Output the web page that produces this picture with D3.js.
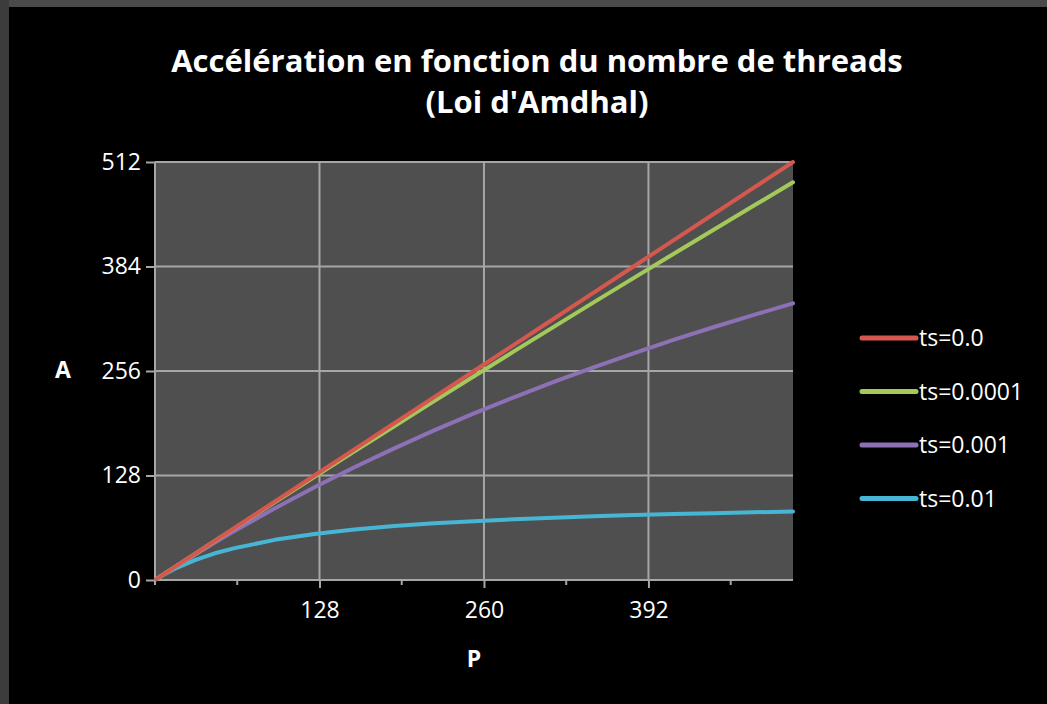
<!DOCTYPE html>
<html><head><meta charset="utf-8">
<script src="https://cdn.jsdelivr.net/npm/d3@7"></script>
<style>
html,body{margin:0;padding:0;background:#000;}
svg{display:block;}
</style></head>
<body>
<script>
// ---- data ----
const categoryP = [-3, 4, 12, 28, 44, 60, 92, 124, 156, 188, 220, 252, 284, 316, 348, 380, 412, 444, 476, 508];
const seriesNames = ["ts=0.0", "ts=0.0001", "ts=0.001", "ts=0.01"];
const ts0    = [1, 8, 16, 32, 48, 64, 96, 128, 160, 192, 224, 256, 288, 320, 352, 384, 416, 448, 480, 512];
const ts0001 = [1, 8.0, 16.0, 31.9, 47.8, 63.6, 95.1, 126.4, 157.5, 188.4, 219.1, 249.6, 280.0, 310.1, 340.1, 369.8, 399.4, 428.8, 458.0, 487.1];
const ts001  = [1, 7.9, 15.8, 31.0, 45.9, 60.2, 87.7, 113.6, 138.1, 161.2, 183.2, 204.0, 223.8, 242.6, 260.5, 277.7, 294.0, 309.6, 324.5, 338.8];
const ts01   = [1, 7.5, 13.9, 24.4, 32.7, 39.0, 49.2, 56.4, 61.8, 66.0, 69.4, 72.1, 74.4, 76.4, 78.1, 79.5, 80.8, 81.9, 82.9, 83.8];
const seriesColors = ["#d5584f", "#a3c95b", "#8d71b6", "#47b6d4"];
const xMajorTicks = [128, 260, 392];
const xMinorTicks = [62, 194, 326, 458];
const yTicks = [0, 128, 256, 384, 512];
const titleLines = ["Accélération en fonction du nombre de threads", "(Loi d'Amdhal)"];
const xTitle = "P", yTitle = "A";

const W = 1047, H = 704;
const svg = d3.select("body").append("svg").attr("width", W).attr("height", H);
const font = "'Open Sans', 'Noto Sans', sans-serif";

// frame strips
svg.append("rect").attr("x",0).attr("y",0).attr("width",W).attr("height",H).attr("fill","#000");
svg.append("rect").attr("x",0).attr("y",0).attr("width",W).attr("height",7).attr("fill","#4a4a4a");
svg.append("rect").attr("x",0).attr("y",0).attr("width",9).attr("height",H).attr("fill","#3c3c3c");

const L = 155, R = 793, T = 162, B = 580;
const x = d3.scaleLinear().domain([-4, 508]).range([L, R]);
const y = d3.scaleLinear().domain([0, 512]).range([B, T]);

svg.append("rect").attr("x",L).attr("y",T).attr("width",R-L).attr("height",B-T).attr("fill","#4f4f4f");

// gridlines
const grid = svg.append("g").attr("stroke","#a6a6a6").attr("stroke-width",2);
grid.selectAll("line.h").data(yTicks.filter(d=>d>0)).join("line")
  .attr("x1",L).attr("x2",R).attr("y1",d=>y(d)).attr("y2",d=>y(d));
grid.selectAll("line.v").data(xMajorTicks).join("line")
  .attr("x1",d=>x(d)).attr("x2",d=>x(d)).attr("y1",T).attr("y2",B);

// axes
const xAxis = d3.axisBottom(x).tickValues(xMajorTicks).tickSize(8).tickPadding(14).tickFormat(d3.format("d"));
const gx = svg.append("g").attr("transform",`translate(0,${B})`).call(xAxis);
gx.select(".domain").attr("stroke","#a6a6a6").attr("stroke-width",2).attr("d",`M${L},0H${R}`);
gx.selectAll(".tick line").attr("stroke","#a6a6a6").attr("stroke-width",2);
gx.selectAll("text").attr("fill","#fff").attr("font-family",font).attr("font-size",23);
const gxm = svg.append("g").attr("stroke","#a6a6a6").attr("stroke-width",2);
gxm.selectAll("line").data([-4].concat(xMinorTicks)).join("line")
  .attr("x1",d=>x(d)).attr("x2",d=>x(d)).attr("y1",B).attr("y2",B+5);

const yAxis = d3.axisLeft(y).tickValues(yTicks).tickSize(9).tickPadding(5).tickFormat(d3.format("d"));
const gy = svg.append("g").attr("transform",`translate(${L},0)`).call(yAxis);
gy.select(".domain").attr("stroke","#a6a6a6").attr("stroke-width",2).attr("d",`M0,${T}V${B}`);
gy.selectAll(".tick line").attr("stroke","#a6a6a6").attr("stroke-width",2);
gy.selectAll("text").attr("fill","#fff").attr("font-family",font).attr("font-size",23);

// lines
const allSeries = [ts0, ts0001, ts001, ts01];
const line = d3.line().x((d,i)=>x(categoryP[i])).y(d=>y(d));
svg.append("g").selectAll("path").data(allSeries.map((s,k)=>({s,k})).reverse()).join("path")
  .attr("d",d=>line(d.s)).attr("fill","none").attr("stroke",d=>seriesColors[d.k])
  .attr("stroke-width",4).attr("stroke-linejoin","round").attr("stroke-linecap","round");

// titles
svg.append("text").attr("x",537).attr("y",72).attr("text-anchor","middle").attr("fill","#fff")
  .attr("font-family",font).attr("font-weight","bold").attr("font-size",31).text(titleLines[0]);
svg.append("text").attr("x",537).attr("y",113).attr("text-anchor","middle").attr("fill","#fff")
  .attr("font-family",font).attr("font-weight","bold").attr("font-size",31).text(titleLines[1]);
svg.append("text").attr("x",474).attr("y",667).attr("text-anchor","middle").attr("fill","#fff")
  .attr("font-family",font).attr("font-weight","bold").attr("font-size",23).text(xTitle);
svg.append("text").attr("x",63).attr("y",378).attr("text-anchor","middle").attr("fill","#fff")
  .attr("font-family",font).attr("font-weight","bold").attr("font-size",23).text(yTitle);

// legend
const leg = svg.append("g").selectAll("g").data(seriesNames).join("g")
  .attr("transform",(d,i)=>`translate(862,${338 + i*53.5})`);
leg.append("line").attr("x1",0).attr("x2",54).attr("y1",0).attr("y2",0)
  .attr("stroke",(d,i)=>seriesColors[i]).attr("stroke-width",5).attr("stroke-linecap","round");
leg.append("text").attr("x",57).attr("y",8).attr("fill","#fff").attr("font-family",font)
  .attr("font-size",23).text(d=>d);
</script>
</body></html>
